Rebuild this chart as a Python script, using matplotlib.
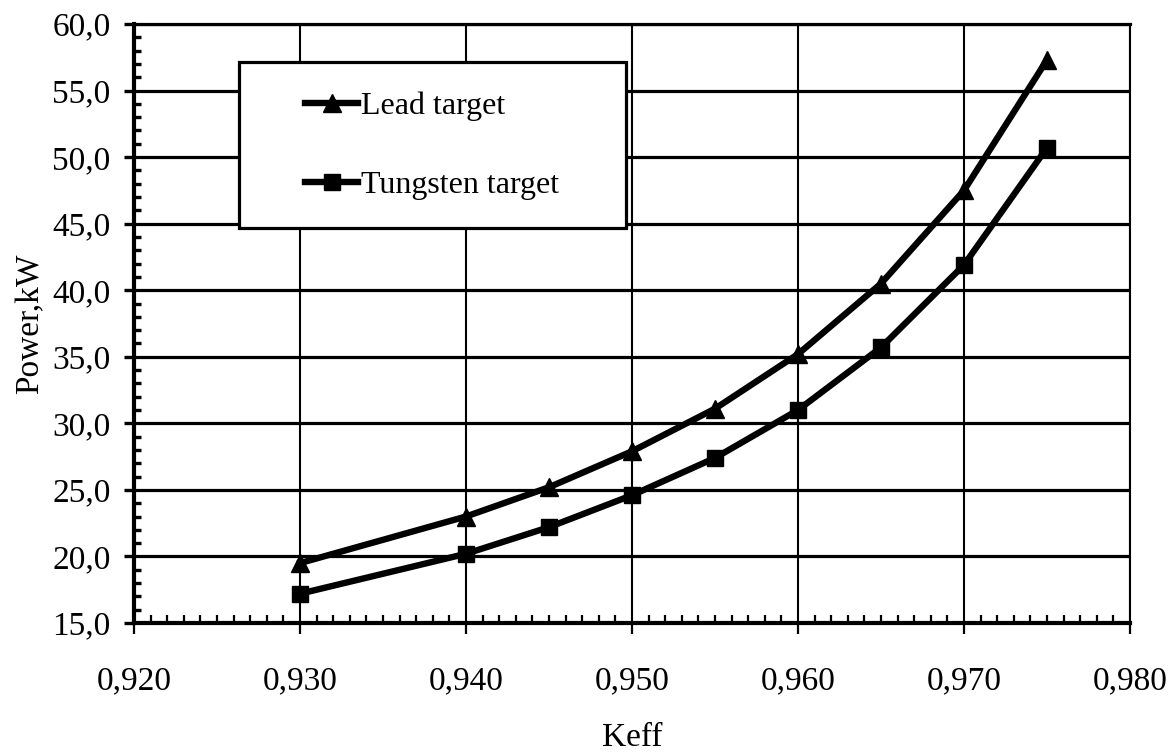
"""
Power vs Keff for lead and tungsten spallation targets.
"""
import matplotlib
matplotlib.use('Agg')
import matplotlib.pyplot as plt
from matplotlib.patches import Rectangle
from matplotlib.ticker import MultipleLocator, FuncFormatter

# === Data ===
keff = [0.930, 0.940, 0.945, 0.950, 0.955, 0.960, 0.965, 0.970, 0.975]
lead_power = [19.5, 23.0, 25.2, 27.9, 31.1, 35.2, 40.5, 47.5, 57.3]
tungsten_power = [17.2, 20.2, 22.2, 24.6, 27.4, 31.0, 35.7, 41.9, 50.7]

x_range = (0.920, 0.980)
y_range = (15.0, 60.0)

plt.rcParams.update({
    'font.family': ['Liberation Serif', 'DejaVu Serif'],
    'font.size': 24,
})

fig = plt.figure(figsize=(11.75, 7.53), dpi=100, facecolor='white')
ax = fig.add_axes([134 / 1175, 130 / 753, 996 / 1175, 599 / 753])

ax.plot(keff, lead_power, color='black', linewidth=4.6, marker='^',
        markersize=13, label='Lead target', zorder=3, clip_on=False)
ax.plot(keff, tungsten_power, color='black', linewidth=4.6, marker='s',
        markersize=11.5, label='Tungsten target', zorder=3, clip_on=False)

ax.set_xlim(*x_range)
ax.set_ylim(*y_range)

# ticks
ax.xaxis.set_major_locator(MultipleLocator(0.01))
ax.xaxis.set_minor_locator(MultipleLocator(0.001))
ax.yaxis.set_major_locator(MultipleLocator(5))
ax.yaxis.set_minor_locator(MultipleLocator(1))
ax.xaxis.set_major_formatter(FuncFormatter(lambda v, p: f'{v:.3f}'.replace('.', ',')))
ax.yaxis.set_major_formatter(FuncFormatter(lambda v, p: f'{v:.1f}'.replace('.', ',')))

ax.tick_params(axis='y', which='major', direction='out', length=7, width=2.4, pad=10)
ax.tick_params(axis='y', which='minor', direction='in', length=5, width=2.4)
ax.tick_params(axis='x', which='major', direction='out', length=8, width=1.6, pad=23)
ax.tick_params(axis='x', which='minor', direction='in', length=5.5, width=1.6)
ax.tick_params(labelsize=24, colors='black')

# grid
ax.grid(axis='y', which='major', color='black', linewidth=2.3)
ax.grid(axis='x', which='major', color='black', linewidth=1.5)

ax.spines['left'].set_linewidth(3)
ax.spines['bottom'].set_linewidth(3)
ax.spines['top'].set_linewidth(2.3)
ax.spines['right'].set_linewidth(1.5)

ax.set_xlabel('Keff', fontsize=24, va='center')
ax.xaxis.set_label_coords(0.5, -0.192)
ax.set_ylabel('Power,kW', fontsize=24, va='center')
ax.yaxis.set_label_coords(-0.1044, 0.5)

# legend box (square frame) + entries
ax.add_patch(Rectangle((0.1054, 0.6594), 0.494 - 0.1054, 0.9366 - 0.6594,
                       transform=ax.transAxes, facecolor='white',
                       edgecolor='black', linewidth=2.3, zorder=4))
leg = ax.legend(loc='upper left', bbox_to_anchor=(0.1720, 0.887),
                frameon=False, borderpad=0, borderaxespad=0,
                handlelength=1.65, handletextpad=0.1, labelspacing=1.55,
                fontsize=23)
leg.set_zorder(5)

plt.savefig('out.png', dpi=100, facecolor='white')
plt.close()
